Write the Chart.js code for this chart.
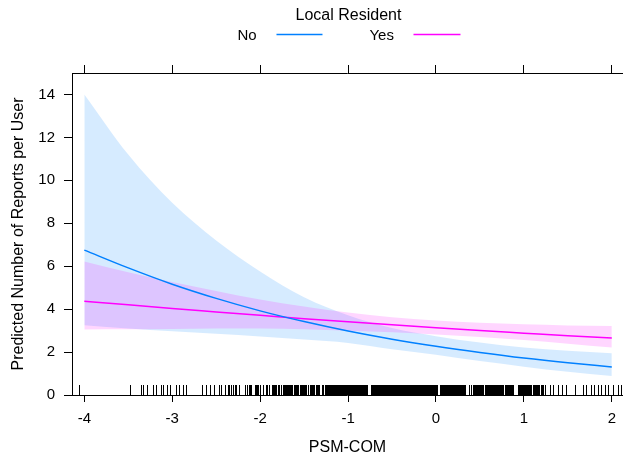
<!DOCTYPE html>
<html><head><meta charset="utf-8">
<script src="https://cdn.jsdelivr.net/npm/chart.js@4.4.1/dist/chart.umd.min.js"></script>
<style>html,body{margin:0;padding:0;background:#fff}#wrap{width:624px;height:456px;position:relative}</style>
</head><body><div id="wrap"><canvas id="c" width="624" height="456"></canvas></div>
<script>
// ---- data ----
const xValues  = [-4, -3.5, -3, -2.5, -2, -1.5, -1, -0.5, 0, 0.5, 1, 1.5, 2];
const noFit    = [6.75, 5.92, 5.16, 4.50, 3.92, 3.42, 2.98, 2.60, 2.27, 1.98, 1.72, 1.50, 1.31];
const noUpper  = [14.0, 11.2, 8.95, 7.2, 5.75, 4.55, 3.72, 3.12, 2.74, 2.44, 2.21, 2.06, 1.95];
const noLower  = [3.25, 3.10, 2.97, 2.85, 2.72, 2.58, 2.42, 2.13, 1.88, 1.58, 1.32, 1.08, 0.88];
const yesFit   = [4.37, 4.20, 4.03, 3.87, 3.71, 3.55, 3.41, 3.27, 3.13, 3.00, 2.88, 2.76, 2.66];
const yesUpper = [6.22, 5.72, 5.26, 4.85, 4.45, 4.12, 3.84, 3.62, 3.47, 3.36, 3.29, 3.24, 3.21];
const yesLower = [3.05, 3.06, 3.08, 3.10, 3.10, 3.06, 2.99, 2.92, 2.82, 2.70, 2.56, 2.39, 2.21];
const xTicks = [-4, -3, -2, -1, 0, 1, 2];
const yTicks = [0, 2, 4, 6, 8, 10, 12, 14];
const rugValues = [
  -4.06, -3.48, -3.36, -3.33, -3.29, -3.22, -3.19, -3.13, -3.10, -3.06, -3.03, -2.96, -2.92, -2.88, -2.84,
  -2.66, -2.62, -2.57, -2.53, -2.47, -2.44, -2.40, -2.37, -2.35, -2.33, -2.31, -2.29, -2.27, -2.24,
  -2.17, -2.15, -2.13, -2.12, -2.10, -2.06, -2.05, -2.04, -2.02, -2.00, -1.97, -1.93, -1.92, -1.90, -1.86,
  -1.85, -1.84, -1.83, -1.82, -1.80, -1.79, -1.78, -1.76,
  -1.745, -1.737, -1.73, -1.715, -1.707, -1.70, -1.685, -1.677, -1.67, -1.655, -1.647, -1.64, -1.61, -1.602,
  -1.595, -1.58, -1.572, -1.565, -1.55, -1.542, -1.535, -1.52, -1.512, -1.505, -1.49, -1.482, -1.475, -1.46,
  -1.43, -1.422, -1.415, -1.40, -1.392, -1.385, -1.37, -1.362, -1.355, -1.34, -1.332, -1.325,
  -1.295, -1.287, -1.28, -1.265, -1.257, -1.25, -1.235, -1.227, -1.22, -1.205,
  -1.19, -1.18, -1.17, -1.16, -1.15, -1.14, -1.13, -1.12, -1.11, -1.10, -1.09, -1.08, -1.07, -1.06, -1.05,
  -1.04, -1.03, -1.02, -1.01, -1.00, -0.99, -0.98, -0.97, -0.96, -0.95, -0.94, -0.93, -0.92, -0.91, -0.90,
  -0.89, -0.88, -0.87, -0.86, -0.85, -0.84, -0.83, -0.82, -0.81, -0.80, -0.79, -0.78,
  -0.735, -0.725, -0.715, -0.705, -0.695, -0.685, -0.675, -0.665, -0.655, -0.645, -0.635, -0.625, -0.615,
  -0.605, -0.595, -0.585, -0.575, -0.565, -0.555, -0.545, -0.535, -0.525, -0.515, -0.505, -0.495, -0.485,
  -0.475, -0.465, -0.455, -0.445, -0.435, -0.425, -0.415, -0.405, -0.395, -0.385, -0.375, -0.365, -0.355,
  -0.345, -0.335, -0.325, -0.315, -0.305, -0.295, -0.285, -0.275, -0.265, -0.255, -0.245, -0.235, -0.225,
  -0.215, -0.205, -0.195, -0.185, -0.175, -0.165, -0.155, -0.145, -0.135, -0.125, -0.115, -0.105, -0.095,
  -0.085, -0.075, -0.065, -0.055, -0.045, -0.035, -0.025, -0.015, -0.005, 0.005, 0.015,
  0.045, 0.055, 0.065, 0.075, 0.085, 0.095, 0.105, 0.115, 0.125, 0.135, 0.145, 0.155, 0.165, 0.175, 0.185,
  0.195, 0.205, 0.215, 0.225, 0.235, 0.245, 0.255, 0.265, 0.275, 0.285, 0.295, 0.305, 0.315, 0.325, 0.335,
  0.37, 0.395,
  0.42, 0.432, 0.444, 0.456, 0.468, 0.48, 0.492, 0.504, 0.516, 0.528, 0.54, 0.552, 0.564, 0.576, 0.588,
  0.60, 0.612, 0.624, 0.636, 0.648, 0.66, 0.672, 0.684, 0.696, 0.708, 0.72, 0.732, 0.744, 0.756, 0.768,
  0.78, 0.792, 0.804, 0.816, 0.828, 0.84, 0.852, 0.864, 0.876,
  0.93, 0.942, 0.954, 0.966, 0.978, 0.99, 1.002, 1.014, 1.026, 1.038, 1.05, 1.062, 1.074, 1.086, 1.098,
  1.11, 1.122, 1.134, 1.146, 1.158, 1.17, 1.19, 1.205, 1.22, 1.24,
  1.30, 1.33, 1.39, 1.43, 1.48, 1.58, 1.67, 1.71, 1.76, 1.80, 1.84, 1.88, 1.92, 1.96, 2.01, 2.07, 2.10
];
const seriesNames = ['No', 'Yes'];
const legendTitle = 'Local Resident';
const xTitle = 'PSM-COM';
const yTitle = 'Predicted Number of Reports per User';

// ---- styling ----
const FONT = "'Liberation Sans', Arial, Helvetica, sans-serif";
Chart.defaults.font.family = FONT;
Chart.defaults.color = '#000';
const BLUE = '#0080ff', PINK = '#ff00ff';
const BLUE_FILL = 'rgba(0,128,255,0.16)', PINK_FILL = 'rgba(255,0,255,0.16)';

const pts = ys => xValues.map((x, i) => ({ x: x, y: ys[i] }));
const lineBase = { pointRadius: 0, cubicInterpolationMode: 'monotone', xAxisID: 'x', yAxisID: 'y' };

const datasets = [
  Object.assign({ label: seriesNames[0], data: pts(noFit), borderColor: BLUE, borderWidth: 1.5, fill: false, order: 0 }, lineBase),
  Object.assign({ label: seriesNames[1], data: pts(yesFit), borderColor: PINK, borderWidth: 1.5, fill: false, order: 1 }, lineBase),
  Object.assign({ label: 'Yes upper', data: pts(yesUpper), borderColor: 'rgba(0,0,0,0)', borderWidth: 0, backgroundColor: PINK_FILL, fill: 3, order: 2 }, lineBase),
  Object.assign({ label: 'Yes lower', data: pts(yesLower), borderColor: 'rgba(0,0,0,0)', borderWidth: 0, fill: false, order: 3 }, lineBase),
  Object.assign({ label: 'No upper', data: pts(noUpper), borderColor: 'rgba(0,0,0,0)', borderWidth: 0, backgroundColor: BLUE_FILL, fill: 5, order: 4 }, lineBase),
  Object.assign({ label: 'No lower', data: pts(noLower), borderColor: 'rgba(0,0,0,0)', borderWidth: 0, fill: false, order: 5 }, lineBase)
];

const X_MIN = -4.14, X_MAX = 2.127;
const gridCommon = { drawOnChartArea: false, drawTicks: true, color: '#000', tickColor: '#000', lineWidth: 1 };
const borderCommon = { display: true, color: '#000', width: 1 };

const extras = {
  id: 'extras',
  afterDatasetsDraw(chart) {
    const { ctx, chartArea, scales } = chart;
    ctx.save();
    ctx.beginPath();
    ctx.rect(chartArea.left, chartArea.top, chartArea.right - chartArea.left, chartArea.bottom - chartArea.top);
    ctx.clip();
    ctx.strokeStyle = '#000';
    ctx.lineWidth = 1;
    ctx.beginPath();
    rugValues.forEach(v => {
      const px = Math.round(scales.x.getPixelForValue(v)) + 0.5;
      ctx.moveTo(px, chartArea.bottom);
      ctx.lineTo(px, chartArea.bottom - 10);
    });
    ctx.stroke();
    ctx.restore();
  },
  afterDraw(chart) {
    const { ctx, chartArea } = chart;
    const cx = (chartArea.left + chartArea.right) / 2;
    ctx.save();
    ctx.fillStyle = '#000';
    ctx.textBaseline = 'middle';
    ctx.textAlign = 'center';
    ctx.font = '16px ' + FONT;
    ctx.fillText(legendTitle, cx + 1, 15.5);
    ctx.font = '15px ' + FONT;
    ctx.textAlign = 'left';
    const items = [
      { text: seriesNames[0], color: BLUE, tx: cx - 110, l0: cx - 71, l1: cx - 25 },
      { text: seriesNames[1], color: PINK, tx: cx + 22, l0: cx + 66, l1: cx + 113 }
    ];
    items.forEach(it => {
      ctx.fillStyle = '#000';
      ctx.fillText(it.text, it.tx, 36);
      ctx.strokeStyle = it.color;
      ctx.lineWidth = 1.5;
      ctx.beginPath();
      ctx.moveTo(it.l0, 34.5);
      ctx.lineTo(it.l1, 34.5);
      ctx.stroke();
    });
    ctx.restore();
  }
};

new Chart(document.getElementById('c'), {
  type: 'line',
  data: { datasets: datasets },
  plugins: [extras],
  options: {
    responsive: false,
    animation: false,
    layout: { padding: 0 },
    plugins: { legend: { display: false }, tooltip: { enabled: false } },
    scales: {
      x: {
        type: 'linear', position: 'bottom', min: X_MIN, max: X_MAX,
        afterBuildTicks: s => { s.ticks = xTicks.map(v => ({ value: v })); },
        afterFit: s => { s.height = 61; },
        grid: Object.assign({ tickLength: 7 }, gridCommon),
        border: borderCommon,
        ticks: { font: { size: 15 }, padding: 8, color: '#000', maxRotation: 0, autoSkip: false, callback: v => String(v) },
        title: { display: true, text: xTitle, font: { size: 16 }, color: '#000', padding: { top: 0, bottom: -1 } }
      },
      x2: {
        type: 'linear', position: 'top', min: X_MIN, max: X_MAX,
        afterBuildTicks: s => { s.ticks = xTicks.map(v => ({ value: v })); },
        afterFit: s => { s.height = 73; },
        grid: Object.assign({ tickLength: 8 }, gridCommon),
        border: borderCommon,
        ticks: { display: false }
      },
      y: {
        type: 'linear', position: 'left', min: 0, max: 15,
        afterBuildTicks: s => { s.ticks = yTicks.map(v => ({ value: v })); },
        afterFit: s => { s.width = 72; },
        grid: Object.assign({ tickLength: 8 }, gridCommon),
        border: borderCommon,
        ticks: { font: { size: 15 }, padding: 9, color: '#000', callback: v => String(v) },
        title: { display: true, text: yTitle, font: { size: 16 }, color: '#000', padding: { top: 9, bottom: 0 } }
      }
    }
  }
});
</script>
</body></html>
